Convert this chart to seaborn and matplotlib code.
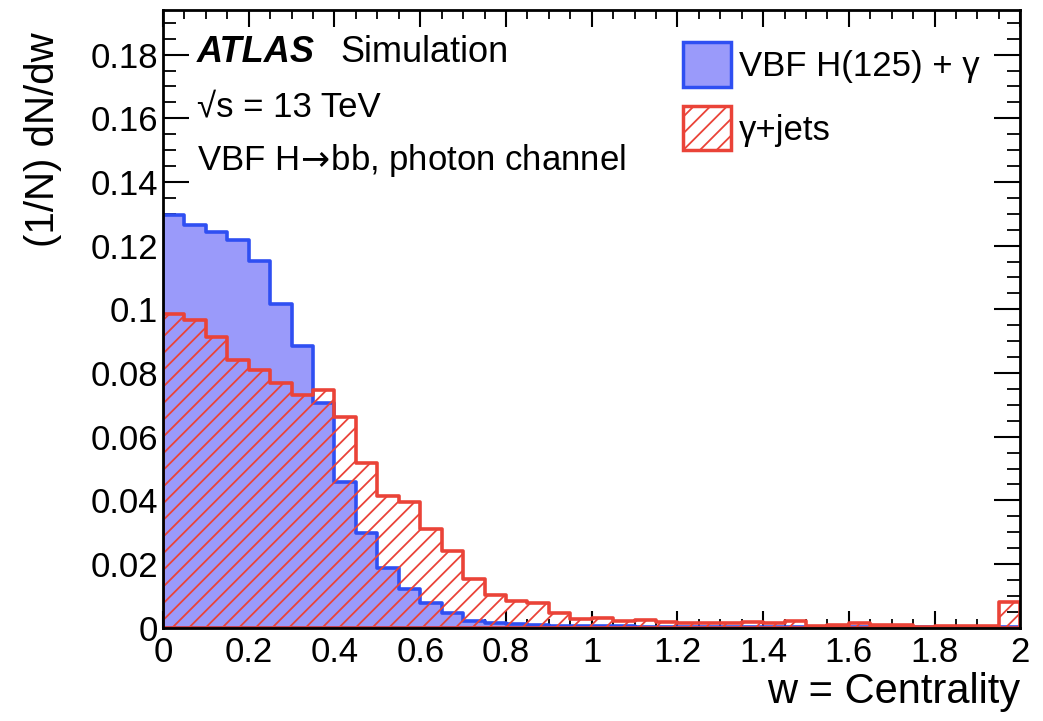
import numpy as np
import pandas as pd
import matplotlib
matplotlib.use("Agg")
import matplotlib.pyplot as plt
from matplotlib.patches import Patch
from matplotlib.ticker import MultipleLocator, FixedLocator, FixedFormatter
import seaborn as sns

# ---------------- data ----------------
bin_width = 0.05
n_bins = 40
vbf_h125_gamma = [
    0.1297, 0.1266, 0.1243, 0.1217, 0.1153, 0.1017, 0.0886, 0.0706, 0.0457, 0.0297,
    0.0189, 0.0121, 0.0077, 0.0047, 0.0022, 0.0016, 0.0011, 0.0008, 0.0006, 0.0005,
    0.0004, 0.0004, 0.0003, 0.0003, 0.0003, 0.0002, 0.0002, 0.0002, 0.0002, 0.0002,
    0.0002, 0.0002, 0.0002, 0.0002, 0.0002, 0.0002, 0.0002, 0.0002, 0.0002, 0.0003,
]
gamma_jets = [
    0.0986, 0.0965, 0.0913, 0.0842, 0.0808, 0.0770, 0.0732, 0.0746, 0.0663, 0.0517,
    0.0414, 0.0396, 0.0310, 0.0242, 0.0153, 0.0104, 0.0084, 0.0077, 0.0045, 0.0026,
    0.0031, 0.0022, 0.0024, 0.0019, 0.0014, 0.0014, 0.0014, 0.0019, 0.0016, 0.0022,
    0.0006, 0.0008, 0.0014, 0.0008, 0.0008, 0.0003, 0.0006, 0.0006, 0.0006, 0.0080,
]
series_labels = ["VBF H(125) + \u03b3", "\u03b3+jets"]
x_ticks = [0, 0.2, 0.4, 0.6, 0.8, 1.0, 1.2, 1.4, 1.6, 1.8, 2.0]
x_tick_labels = ["0", "0.2", "0.4", "0.6", "0.8", "1", "1.2", "1.4", "1.6", "1.8", "2"]
y_ticks = [0, 0.02, 0.04, 0.06, 0.08, 0.10, 0.12, 0.14, 0.16, 0.18]
y_tick_labels = ["0", "0.02", "0.04", "0.06", "0.08", "0.1", "0.12", "0.14", "0.16", "0.18"]

centers = (np.arange(n_bins) + 0.5) * bin_width
df = pd.DataFrame({"w": centers, "vbf": vbf_h125_gamma, "gj": gamma_jets})

# ---------------- style ----------------
sns.set_style("ticks")
plt.rcParams["font.family"] = ["Liberation Sans", "DejaVu Sans"]
plt.rcParams["hatch.linewidth"] = 1.3
for k in ["text.color", "axes.labelcolor", "xtick.color", "ytick.color", "axes.edgecolor"]:
    plt.rcParams[k] = "black"

fill_blue = "#9a9afa"
edge_blue = "#2f4ff2"
red = "#ea4338"

fig = plt.figure(figsize=(10.43, 7.21), dpi=100)
ax = fig.add_axes([0.1563, 0.1294, 0.8220, 0.8567])

sns.histplot(data=df, x="w", weights="vbf", binwidth=bin_width, binrange=(0, n_bins * bin_width),
             element="step", fill=True, color=edge_blue, facecolor=fill_blue, alpha=1,
             edgecolor=edge_blue, linewidth=2.6, ax=ax)
sns.histplot(data=df, x="w", weights="gj", binwidth=bin_width, binrange=(0, n_bins * bin_width),
             element="step", fill=True, color=red, facecolor="none", edgecolor=red,
             hatch="//", linewidth=2.6, ax=ax)

ax.set_xlim(0, 2)
ax.set_ylim(0, 0.194)

ax.xaxis.set_major_locator(FixedLocator(x_ticks))
ax.xaxis.set_major_formatter(FixedFormatter(x_tick_labels))
ax.yaxis.set_major_locator(FixedLocator(y_ticks))
ax.yaxis.set_major_formatter(FixedFormatter(y_tick_labels))
ax.xaxis.set_minor_locator(MultipleLocator(0.05))
ax.yaxis.set_minor_locator(MultipleLocator(0.005))

ax.tick_params(which="both", direction="in", top=True, right=True, colors="black")
ax.tick_params(axis="y", which="major", length=19, width=1.5, pad=3.5, labelsize=25)
ax.tick_params(axis="y", which="minor", length=9.5, width=1.3)
ax.tick_params(axis="x", which="major", length=12.5, width=1.5, pad=6, labelsize=25)
ax.tick_params(axis="x", which="minor", length=6.5, width=1.3)

for s in ax.spines.values():
    s.set_linewidth(2)
    s.set_color("black")

ax.set_ylabel("(1/N) dN/dw", fontsize=29, loc="top")
ax.yaxis.set_label_coords(-0.118, 0.964)
ax.set_xlabel("w = Centrality", fontsize=30, loc="right")
ax.xaxis.set_label_coords(1.0, -0.072)

ax.text(0.0397, 0.932, "ATLAS", transform=ax.transAxes, fontsize=26,
        fontweight="bold", fontstyle="italic", va="center", ha="left")
ax.text(0.2065, 0.932, "Simulation", transform=ax.transAxes, fontsize=26,
        va="center", ha="left")
ax.text(0.0397, 0.843, "\u221as = 13 TeV", transform=ax.transAxes, fontsize=25,
        va="center", ha="left")
ax.text(0.0397, 0.757, "VBF H$\\!\\rightarrow\\!$bb, photon channel", transform=ax.transAxes,
        fontsize=25, va="center", ha="left")

handles = [Patch(facecolor=fill_blue, edgecolor=edge_blue, linewidth=2.5),
           Patch(facecolor="white", edgecolor=red, hatch="//", linewidth=2.5)]
ax.legend(handles, series_labels, loc="upper left", bbox_to_anchor=(0.607, 0.948),
          frameon=False, fontsize=25, handlelength=1.36, handleheight=1.6,
          handletextpad=0.25, labelspacing=0.55, borderpad=0, borderaxespad=0)

fig.savefig("out.png", dpi=100)
